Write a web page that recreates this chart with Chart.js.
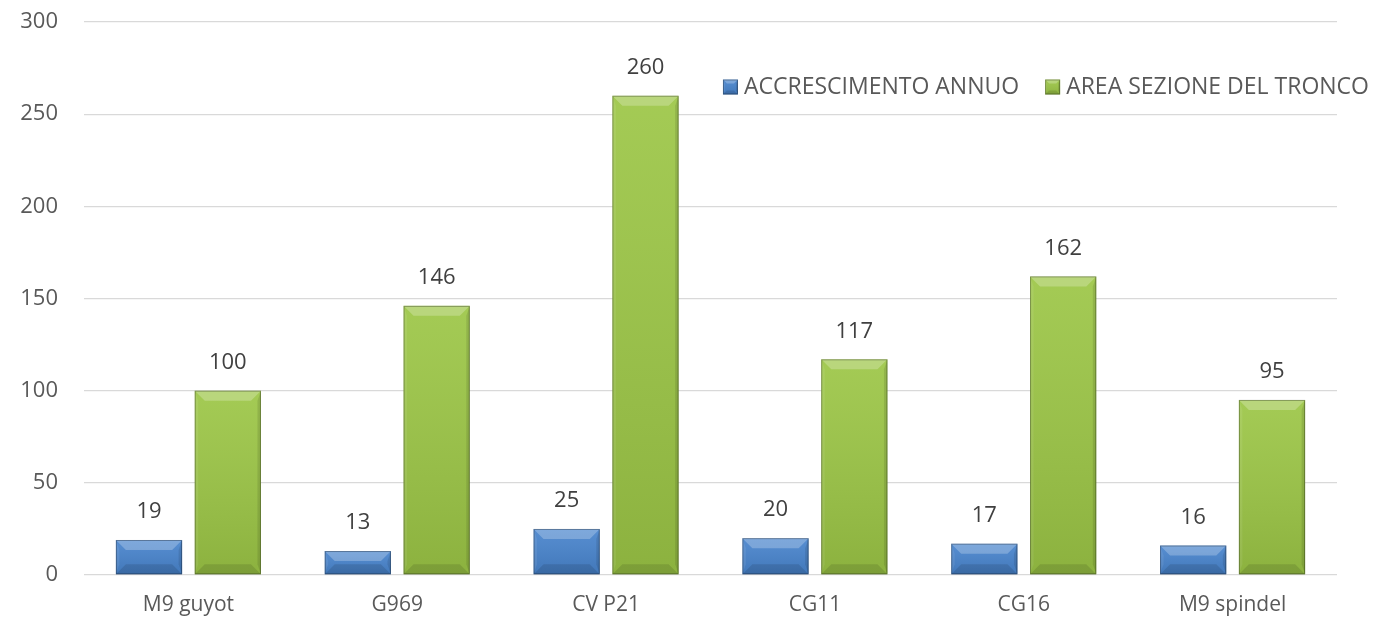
<!DOCTYPE html>
<html>
<head>
<meta charset="utf-8">
<script src="https://cdn.jsdelivr.net/npm/chart.js@4.4.0/dist/chart.umd.min.js"></script>
<style>
  html, body { margin: 0; padding: 0; background: #fff; }
  #wrap { width: 1375px; height: 623px; }
</style>
</head>
<body>
<div id="wrap"><canvas id="myChart"></canvas></div>
<script>
const categories = ["M9 guyot", "G969", "CV P21", "CG11", "CG16", "M9 spindel"];
const accrescimentoAnnuo = [19, 13, 25, 20, 17, 16];
const areaSezioneTronco = [100, 146, 260, 117, 162, 95];
const yTicks = [0, 50, 100, 150, 200, 250, 300];

const FONT = "'Open Sans', sans-serif";
const TEXT = "#595959";

function poly(ctx, pts, fill) {
  ctx.beginPath();
  ctx.moveTo(pts[0][0], pts[0][1]);
  for (let i = 1; i < pts.length; i++) ctx.lineTo(pts[i][0], pts[i][1]);
  ctx.closePath();
  ctx.fillStyle = fill;
  ctx.fill();
}

// soft bevel: shaded face, light top edge, darker sides and bottom
function bevelRect(ctx, l, t, r, b, d) {
  const face = ctx.createLinearGradient(0, t, 0, b);
  face.addColorStop(0, "rgba(255,255,255,0.08)");
  face.addColorStop(1, "rgba(0,0,0,0.10)");
  ctx.fillStyle = face;
  ctx.fillRect(l, t, r - l, b - t);
  const sd = Math.max(2, d * 0.35);
  poly(ctx, [[l, t], [r, t], [r - d, t + d], [l + d, t + d]], "rgba(255,255,255,0.24)");
  poly(ctx, [[l, t], [l + sd, t + d], [l + sd, b - d], [l, b]], "rgba(255,255,255,0.08)");
  poly(ctx, [[r, t], [r, b], [r - sd, b - d], [r - sd, t + d]], "rgba(0,0,0,0.10)");
  poly(ctx, [[l, b], [l + d, b - d], [r - d, b - d], [r, b]], "rgba(0,0,0,0.11)");
  ctx.strokeStyle = "rgba(0,0,0,0.30)";
  ctx.lineWidth = 1;
  ctx.strokeRect(l + 0.5, t + 0.5, r - l - 1, b - t - 1);
}

const bevelPlugin = {
  id: "bevel",
  afterDatasetsDraw(chart) {
    const ctx = chart.ctx;
    ctx.save();
    chart.data.datasets.forEach((ds, i) => {
      chart.getDatasetMeta(i).data.forEach(bar => {
        const { x, y, base, width } = bar.getProps(["x", "y", "base", "width"], true);
        const d = Math.min(10, (base - y) / 2);
        bevelRect(ctx, x - width / 2, y, x + width / 2, base, d);
      });
    });
    ctx.restore();
  }
};

const valueLabels = {
  id: "valueLabels",
  afterDatasetsDraw(chart) {
    const ctx = chart.ctx;
    ctx.save();
    ctx.font = "22px " + FONT;
    ctx.fillStyle = "#404040";
    ctx.textAlign = "center";
    ctx.textBaseline = "middle";
    chart.data.datasets.forEach((ds, i) => {
      chart.getDatasetMeta(i).data.forEach((bar, j) => {
        ctx.fillText(String(ds.data[j]), bar.x, bar.y - 28);
      });
    });
    ctx.restore();
  }
};

const insideLegend = {
  id: "insideLegend",
  afterDraw(chart) {
    const ctx = chart.ctx;
    ctx.save();
    ctx.font = "23px " + FONT;
    ctx.textBaseline = "middle";
    const box = 15, gap = 6, spacing = 26, cy = 87;
    const items = chart.data.datasets.map(ds => ({ label: ds.label, color: ds.backgroundColor }));
    let total = 0;
    items.forEach((it, k) => {
      it.w = box + gap + ctx.measureText(it.label).width;
      total += it.w + (k ? spacing : 0);
    });
    let x = chart.width - 6 - total;
    items.forEach(it => {
      ctx.fillStyle = it.color;
      ctx.fillRect(x, cy - box / 2, box, box);
      bevelRect(ctx, x, cy - box / 2, x + box, cy + box / 2, 4);
      ctx.fillStyle = TEXT;
      ctx.textAlign = "left";
      ctx.fillText(it.label, x + box + gap, cy);
      x += it.w + spacing;
    });
    ctx.restore();
  }
};

new Chart(document.getElementById("myChart"), {
  type: "bar",
  data: {
    labels: categories,
    datasets: [
      {
        label: "ACCRESCIMENTO ANNUO",
        data: accrescimentoAnnuo,
        backgroundColor: "#4884cd",
        barPercentage: 0.84,
        categoryPercentage: 0.755
      },
      {
        label: "AREA SEZIONE DEL TRONCO",
        data: areaSezioneTronco,
        backgroundColor: "#9cc646",
        barPercentage: 0.84,
        categoryPercentage: 0.755
      }
    ]
  },
  options: {
    responsive: true,
    maintainAspectRatio: false,
    animation: false,
    layout: { padding: { left: 0, right: 38, top: 22, bottom: 0 } },
    plugins: {
      legend: { display: false },
      tooltip: { enabled: false }
    },
    scales: {
      x: {
        grid: { display: false, drawTicks: false },
        border: { display: false },
        ticks: { color: TEXT, font: { family: FONT, size: 21 }, padding: 17 },
        afterFit(scale) { scale.height = 48; }
      },
      y: {
        min: 0,
        max: 300,
        afterBuildTicks(scale) { scale.ticks = yTicks.map(v => ({ value: v })); },
        grid: { color: "#d9d9d9", lineWidth: 1.3, drawTicks: false },
        border: { display: false },
        ticks: { color: TEXT, font: { family: FONT, size: 22 }, padding: 26 },
        afterFit(scale) {
          scale.width = 84;
          scale.paddingTop = 0;
          scale.paddingBottom = 0;
        }
      }
    }
  },
  plugins: [bevelPlugin, valueLabels, insideLegend]
});
</script>
</body>
</html>
